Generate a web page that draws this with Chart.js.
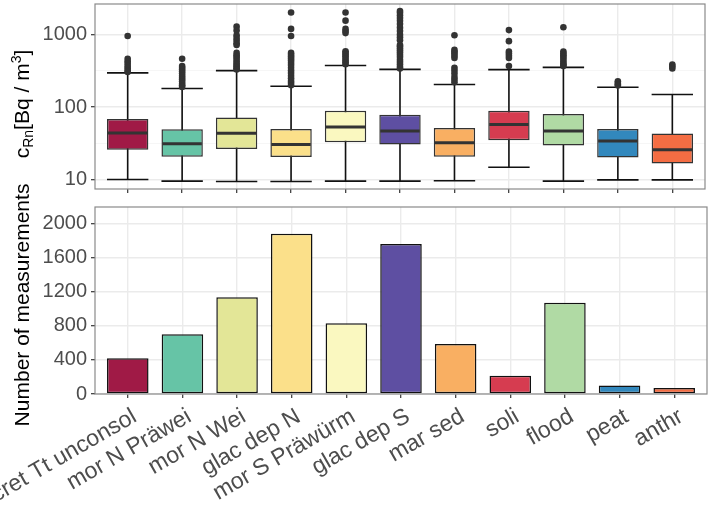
<!DOCTYPE html>
<html><head><meta charset="utf-8">
<script src="https://cdn.jsdelivr.net/npm/chart.js@4.4.0/dist/chart.umd.min.js"></script>
<style>
html,body{margin:0;padding:0;background:#fff;}
#wrap{position:relative;width:709px;height:505px;overflow:hidden;font-family:"Liberation Sans",Arial,sans-serif;background:#fff;}
.ytitle{position:absolute;white-space:nowrap;font-size:21px;line-height:1;color:#000;transform:translate(-50%,-50%) rotate(-90deg);}
.ytitle sub{font-size:14px;vertical-align:-4px;line-height:0;}
.ytitle sup{font-size:14px;vertical-align:8px;line-height:0;}
</style></head>
<body><div id="wrap">
<canvas id="c1" width="709" height="200" style="position:absolute;left:0;top:0"></canvas>
<canvas id="c2" width="709" height="305" style="position:absolute;left:0;top:200px"></canvas>
<div class="ytitle" style="left:21px;top:104px">c<sub>Rn</sub>[Bq / m<sup>3</sup>]</div>
<div class="ytitle" style="left:21px;top:305px">Number of measurements</div>
</div>
<script>
// ---- data ----
const categories = ['cret Tt unconsol','mor N Präwei','mor N Wei','glac dep N','mor S Präwürm','glac dep S','mar sed','soli','flood','peat','anthr'];
const counts      = [420, 700, 1135, 1880, 830, 1760, 585, 215, 1070, 100, 70];
const whiskerLow  = [10, 9.5, 9.4, 9.4, 9.5, 9.5, 9.6, 14.8, 9.5, 9.9, 9.9];
const q1          = [25.8, 20.6, 26.3, 20.4, 32.7, 30.4, 20.6, 34.8, 29.5, 20.2, 16.6];
const median      = [44, 31.1, 43.6, 30.4, 53.1, 46.9, 32.1, 57.7, 46.9, 34.1, 25.8];
const q3          = [68.5, 49.4, 71.6, 49.9, 89, 78.5, 51.4, 89, 80, 49.9, 43.2];
const whiskerHigh = [297, 181, 319, 194, 376, 332, 205, 329, 353, 188, 149];
const outliers = [
  [960, 466, 430, 400, 370, 345, 320, 305],
  [466, 370, 350, 330, 310, 290, 270, 255, 240, 225, 210, 200, 190],
  [1290, 1140, 980, 900, 830, 760, 720, 560, 520, 490, 460, 430, 400, 380, 360, 345, 330],
  [2020, 1200, 960, 560, 530, 500, 470, 440, 410, 380, 350, 320, 295, 270, 250, 230, 215, 200],
  [2020, 1560, 1200, 1120, 1050, 590, 560, 530, 500, 470, 440, 415, 390],
  [2120, 2000, 1850, 1700, 1550, 1400, 1250, 1120, 1000, 920, 840, 720, 690, 650, 610, 570, 530, 490, 450, 420, 390, 360, 340],
  [980, 616, 580, 550, 510, 476, 350, 320, 290, 260, 240, 220],
  [1155, 813, 585, 550, 510, 476, 368],
  [1268, 585, 550, 520, 490, 460, 430, 400, 380, 368],
  [227, 215, 205, 199],
  [387, 365, 342]
];
const logTicks = [10, 31.62, 100, 316.2, 1000];
const countTicks = [0, 200, 400, 600, 800, 1000, 1200, 1400, 1600, 1800, 2000];

// ---- styles ----
const fillColors = ['#A01A46','#66C4A6','#E3E697','#FBE08A','#FAF8C0','#5E4FA2','#F9AF62','#D63C50','#B0DAA4','#3288BD','#F46D43'];
const FAMILY = '"Liberation Sans", Arial, sans-serif';
const YFONT = {family:FAMILY, size:20};
const XFONT = {family:FAMILY, size:23};
const TICKCOL = '#4D4D4D';
const GRID = '#EBEBEB';

const panelBorder = {
  id:'panelBorder',
  afterDatasetsDraw(chart){
    const a = chart.chartArea, c = chart.ctx;
    c.save(); c.strokeStyle = '#8A8A8A'; c.lineWidth = 1.2;
    c.strokeRect(a.left, a.top, a.right - a.left, a.bottom - a.top);
    c.restore();
  }
};

const boxParts = {
  id:'boxParts',
  beforeDatasetsDraw(chart){
    const xs = chart.scales.x, ys = chart.scales.y, c = chart.ctx;
    const meta = chart.getDatasetMeta(0);
    c.save(); c.strokeStyle = '#111'; c.lineWidth = 1.6;
    categories.forEach((cat,i)=>{
      const x = xs.getPixelForValue(i);
      const w = meta.data[i].width;
      const yl = ys.getPixelForValue(whiskerLow[i]);
      const yh = ys.getPixelForValue(whiskerHigh[i]);
      c.beginPath();
      c.moveTo(x, yl); c.lineTo(x, yh);
      c.moveTo(x - w/2, yl); c.lineTo(x + w/2, yl);
      c.moveTo(x - w/2, yh); c.lineTo(x + w/2, yh);
      c.stroke();
    });
    c.restore();
  },
  afterDatasetsDraw(chart){
    const xs = chart.scales.x, ys = chart.scales.y, c = chart.ctx;
    const meta = chart.getDatasetMeta(0);
    c.save(); c.strokeStyle = '#333'; c.lineWidth = 3;
    categories.forEach((cat,i)=>{
      const x = xs.getPixelForValue(i);
      const w = meta.data[i].width;
      const y = ys.getPixelForValue(median[i]);
      c.beginPath(); c.moveTo(x - w/2 + 1, y); c.lineTo(x + w/2 - 1, y); c.stroke();
    });
    c.restore();
  }
};

function xScale(showLabels, h){
  return {
    type:'linear', min:-0.6, max:10.6, offset:false,
    afterBuildTicks: s => { s.ticks = categories.map((c,i)=>({value:i})); },
    afterFit: s => { s.height = h; s.paddingLeft = 0; s.paddingRight = 0; s.paddingTop = 0; s.paddingBottom = 0; },
    border:{display:false},
    grid:{offset:false, color:GRID, lineWidth:1.4, drawTicks:true, tickLength:4, tickColor:'#333', tickWidth:1.2},
    ticks: showLabels ? {
      autoSkip:false, minRotation:30, maxRotation:30, padding:5, labelOffset:7,
      font:XFONT, color:TICKCOL,
      callback: v => categories[v] !== undefined ? categories[v] : ''
    } : {display:false}
  };
}

const isMajorLog = v => Math.abs(Math.log10(v) - Math.round(Math.log10(v))) < 0.01;
const yFit = s => { s.width = 95; s.paddingTop = 0; s.paddingBottom = 0; s.paddingLeft = 0; s.paddingRight = 0; };

new Chart(document.getElementById('c1'), {
  data:{
    datasets:[
      {type:'bar', data: categories.map((c,i)=>({x:i, y:[q1[i], q3[i]]})),
       backgroundColor: fillColors, borderColor:'#333', borderWidth:1.5, borderSkipped:false,
       barPercentage:0.76, categoryPercentage:1, order:2},
      {type:'scatter', data: outliers.flatMap((arr,i)=>arr.map(v=>({x:i, y:v}))),
       backgroundColor:'#333', borderWidth:0, pointRadius:3.3, order:1}
    ]
  },
  options:{
    responsive:false, animation:false,
    layout:{padding:{left:0, right:2, top:1, bottom:0}},
    plugins:{legend:{display:false}, tooltip:{enabled:false}},
    scales:{
      x: xScale(false, 11),
      y: {
        type:'logarithmic', min:7.4, max:2650,
        afterBuildTicks: s => { s.ticks = logTicks.map(v=>({value:v})); },
        afterFit: yFit,
        border:{display:false},
        grid:{
          color: ctx => isMajorLog(ctx.tick.value) ? GRID : '#F4F4F4',
          lineWidth: ctx => isMajorLog(ctx.tick.value) ? 1.4 : 0.8,
          tickColor: ctx => isMajorLog(ctx.tick.value) ? '#333' : 'rgba(0,0,0,0)',
          tickLength:4, tickWidth:1.2
        },
        ticks:{font:YFONT, color:TICKCOL, padding:4,
          callback: v => isMajorLog(v) ? String(Math.round(v)) : ''}
      }
    }
  },
  plugins:[boxParts, panelBorder]
});

new Chart(document.getElementById('c2'), {
  data:{
    datasets:[
      {type:'bar', data: counts.map((v,i)=>({x:i, y:v})),
       backgroundColor: fillColors, borderColor:'#111', borderWidth:1.5, borderSkipped:false,
       barPercentage:0.76, categoryPercentage:1}
    ]
  },
  options:{
    responsive:false, animation:false,
    layout:{padding:{left:0, right:2, top:7, bottom:0}},
    plugins:{legend:{display:false}, tooltip:{enabled:false}},
    scales:{
      x: xScale(true, 111),
      y: {
        type:'linear', min:0, max:2193,
        afterBuildTicks: s => { s.ticks = countTicks.map(v=>({value:v})); },
        afterFit: yFit,
        border:{display:false},
        grid:{
          color: ctx => ctx.tick.value % 400 === 0 ? GRID : '#F4F4F4',
          lineWidth: ctx => ctx.tick.value % 400 === 0 ? 1.4 : 0.8,
          tickColor: ctx => ctx.tick.value % 400 === 0 ? '#333' : 'rgba(0,0,0,0)',
          tickLength:4, tickWidth:1.2
        },
        ticks:{font:YFONT, color:TICKCOL, padding:4,
          callback: v => v % 400 === 0 ? String(v) : ''}
      }
    }
  },
  plugins:[panelBorder]
});
</script>
</body></html>
